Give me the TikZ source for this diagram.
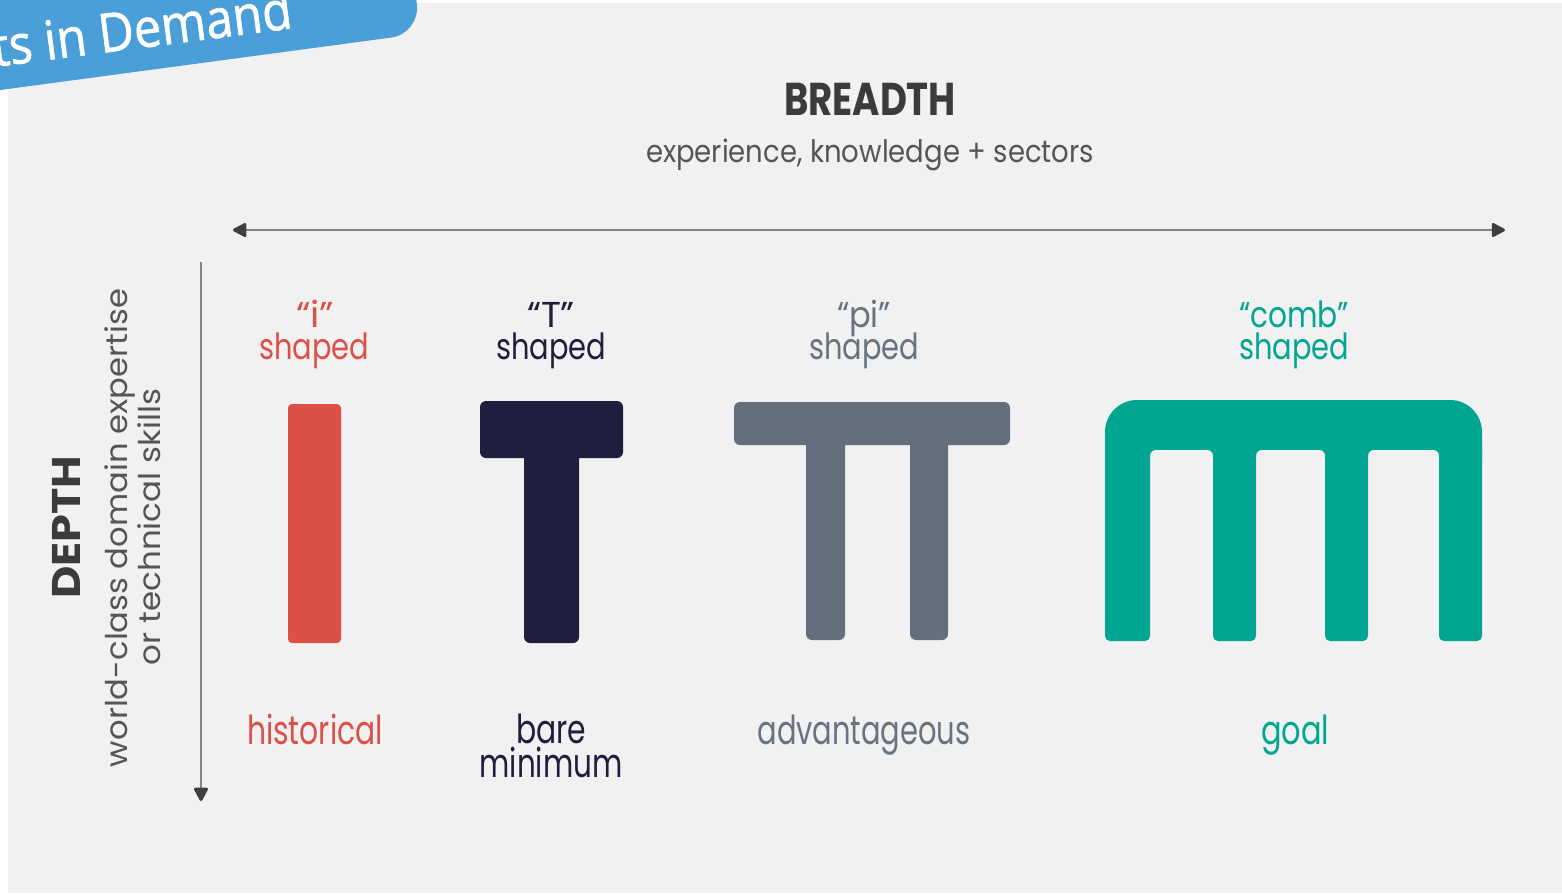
\documentclass[tikz,border=0pt]{standalone}
\usepackage{fontspec}
\setmainfont{Poppins}
\newfontfamily\bannerfont[FakeBold=1.2]{Open Sans}
\usetikzlibrary{arrows.meta}
\definecolor{bg}{HTML}{F1F1F1}
\definecolor{banner}{HTML}{4A9FD8}
\definecolor{tdark}{HTML}{3B3B3B}
\definecolor{tmid}{HTML}{555555}
\definecolor{axline}{HTML}{858585}
\definecolor{axhead}{HTML}{3F3F3F}
\definecolor{cred}{HTML}{DC5048}
\definecolor{cnavy}{HTML}{1F1E3E}
\definecolor{cslate}{HTML}{636F7C}
\definecolor{tslate}{HTML}{68737F}
\definecolor{cteal}{HTML}{00A692}
\newcommand\fw[2]{\resizebox{#1}{\height}{#2}}
\tikzset{
  lab/.style={inner sep=0pt, anchor=base},
  toplab/.style={lab, font=\fontsize{36}{40}\selectfont},
  botlab/.style={lab, font=\fontsize{40}{44}\selectfont},
  axis/.style={draw=axline, line width=2.8pt, >={Triangle[length=15pt,width=15pt,round,color=axhead]}}
}
\begin{document}
\begin{tikzpicture}[x=1pt,y=-1pt]
\useasboundingbox (0,0) rectangle (1562,894);
\fill[white] (0,0) rectangle (1562,894);
\fill[bg] (8,3) rectangle (1562,893);
% banner
\begin{scope}
\clip (0,0) rectangle (1562,894);
\fill[banner, rounded corners=30] (-40,95.4) -- (420.8,33.6) -- (409,-54.5) -- (-40,-60) -- cycle;
\node[inner sep=0pt, anchor=base east, rotate=7.4, text=white, font=\bannerfont\fontsize{54}{60}\selectfont] (bt) at (294,28) {\fw{302pt}{ts in Demand}};
\end{scope}
% headings
\node[lab, text=tdark, font=\bfseries\fontsize{46}{50}\selectfont] (breadth) at (870,115) {\fw{172pt}{BREADTH}};
\node[lab, text=tmid, font=\fontsize{31}{36}\selectfont] (bsub) at (870,162) {\fw{448pt}{experience, knowledge + sectors}};
\node[lab, rotate=90, text=tdark, font=\bfseries\fontsize{40}{44}\selectfont] (depth) at (80,527) {\fw{143pt}{DEPTH}};
\node[lab, rotate=90, text=tmid, font=\fontsize{30}{34}\selectfont] (dsub1) at (127,528) {\fw{478pt}{world-class domain expertise}};
\node[lab, rotate=90, text=tmid, font=\fontsize{30}{34}\selectfont] (dsub2) at (160,527) {\fw{276pt}{or technical skills}};
% axes
\coordinate (hL) at (233,230);
\coordinate (hR) at (1505,230);
\draw[axis, <->] (hL) -- (hR);
\coordinate (vT) at (201,262);
\coordinate (vB) at (201,801);
\draw[axis, ->] (vT) -- (vB);
% i shape
\fill[cred, rounded corners=4] (288,404) rectangle (341,643);
% T shape
\fill[cnavy, rounded corners=6] (480,401) rectangle (623,458);
\fill[cnavy, rounded corners=6] (524,440) rectangle (579,643);
% pi shape
\fill[cslate, rounded corners=6] (734,402) rectangle (1010,445);
\fill[cslate, rounded corners=6] (806,430) rectangle (845,640);
\fill[cslate, rounded corners=6] (910,430) rectangle (948,640);
% comb shape
\fill[cteal] (1105,462) -- (1105,432) arc[start angle=180,end angle=270,radius=32] -- (1450,400) arc[start angle=270,end angle=360,radius=32] -- (1482,462) -- cycle;
\fill[bg, rounded corners=6] (1150,450) rectangle (1213,480);
\fill[bg, rounded corners=6] (1256,450) rectangle (1325,480);
\fill[bg, rounded corners=6] (1368,450) rectangle (1439,480);
\fill[cteal, rounded corners=5] (1105,440) rectangle (1150,641);
\fill[cteal, rounded corners=5] (1213,440) rectangle (1256,641);
\fill[cteal, rounded corners=5] (1325,440) rectangle (1368,641);
\fill[cteal, rounded corners=5] (1439,440) rectangle (1482,641);
% top labels
\node[toplab, text=cred] (iq) at (315,327) {\fw{38pt}{“i”}};
\node[toplab, text=cred] (ish) at (314,359) {\fw{110pt}{shaped}};
\node[toplab, text=cnavy] (tq) at (551,327) {\fw{48pt}{“T”}};
\node[toplab, text=cnavy] (tsh) at (551,359) {\fw{110pt}{shaped}};
\node[toplab, text=tslate] (pq) at (864,327) {\fw{54pt}{“pi”}};
\node[toplab, text=tslate] (psh) at (864,359) {\fw{110pt}{shaped}};
\node[toplab, text=cteal] (cq) at (1294,327) {\fw{110pt}{“comb”}};
\node[toplab, text=cteal] (csh) at (1294,359) {\fw{110pt}{shaped}};
% bottom labels
\node[botlab, text=cred] (hist) at (315,744) {\fw{136pt}{historical}};
\node[botlab, text=cnavy] (bare) at (551,743) {\fw{70pt}{bare}};
\node[botlab, text=cnavy] (mini) at (551,777) {\fw{143pt}{minimum}};
\node[botlab, text=tslate] (adv) at (864,744) {\fw{213pt}{advantageous}};
\node[botlab, text=cteal] (goal) at (1295,744) {\fw{68pt}{goal}};
\end{tikzpicture}
\end{document}
